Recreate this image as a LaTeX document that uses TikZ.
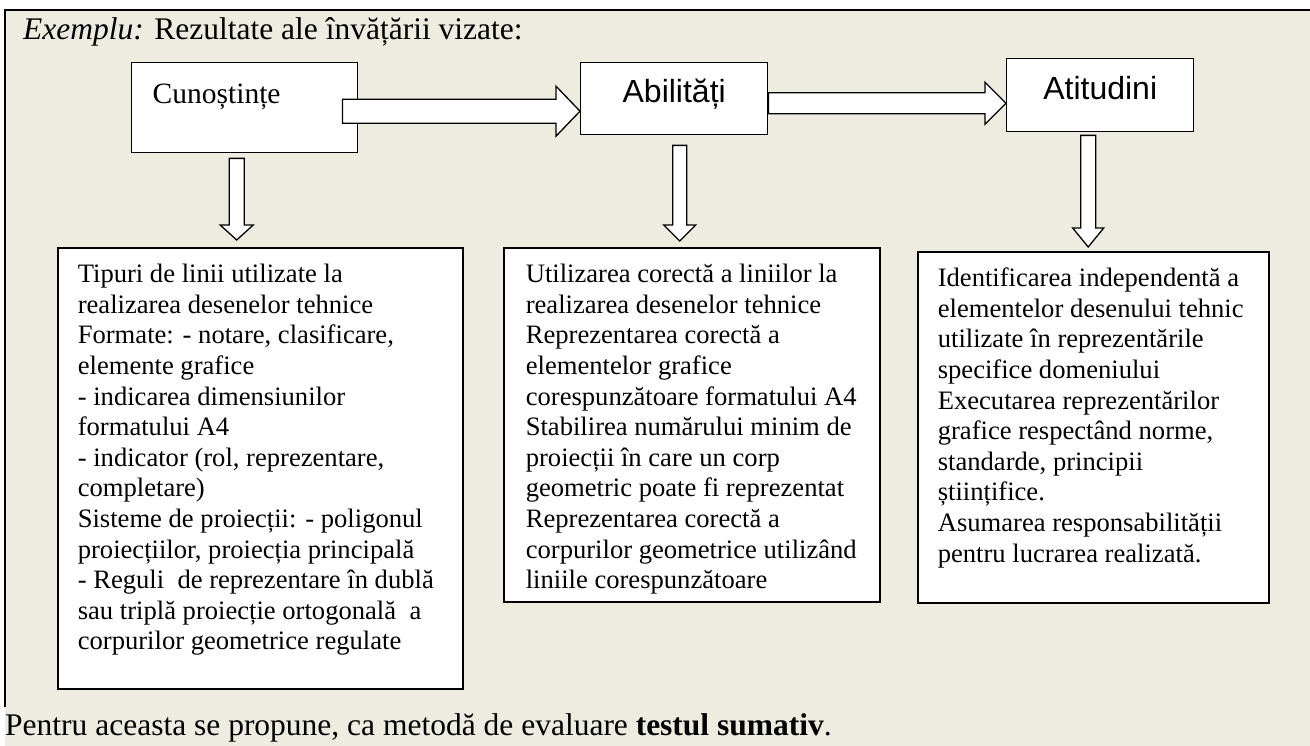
\documentclass[tikz,border=0pt]{standalone}
\usepackage{fontspec}
\setmainfont{Liberation Serif}
\newfontfamily\arialfont{Liberation Sans}
\usetikzlibrary{calc}
\definecolor{paper}{HTML}{EEECE1}

\newcommand{\boxfont}{\fontsize{26.6}{30.6}\selectfont}
% width, height, left padding, lines
\newcommand{\outcome}[4]{\parbox[t][#2][t]{#1}{\raggedright\leftskip=#3\rule{0pt}{35pt}#4}}
% tail, tip, half shaft, half head, head length
\newcommand{\rightblock}[5]{\draw[blockarrow] let \p1=(#1), \p2=(#2) in
  (\x1,\y2+#3) -- (\x2-#5,\y2+#3) -- (\x2-#5,\y2+#4) -- (\x2,\y2) --
  (\x2-#5,\y2-#4) -- (\x2-#5,\y2-#3) -- (\x1,\y2-#3) -- cycle;}
\newcommand{\downblock}[5]{\draw[blockarrow] let \p1=(#1), \p2=(#2) in
  (\x2-#3,\y1) -- (\x2-#3,\y2+#5) -- (\x2-#4,\y2+#5) -- (\x2,\y2) --
  (\x2+#4,\y2+#5) -- (\x2+#3,\y2+#5) -- (\x2+#3,\y1) -- cycle;}

\begin{document}
\begin{tikzpicture}[x=1pt, y=-1pt,
  topbox/.style={draw=black, line width=1.4pt, fill=white, anchor=north west, inner ysep=0pt},
  lowbox/.style={draw=black, line width=1.6pt, fill=white, anchor=north west, inner sep=0pt, font=\boxfont},
  blockarrow/.style={draw=black, line width=1.3pt, fill=white, line join=miter}
]
\useasboundingbox (0,0) rectangle (1310,746);
% shaded frame
\fill[paper] (5,10) rectangle (1310,746);
\draw[line width=2pt] (1312,10) -- (5,10) -- (5,707);

\node[anchor=base west, inner sep=0pt, font=\fontsize{31.5}{34}\selectfont] (title) at (23,40)
  {\textit{Exemplu:} Rezultate ale învățării vizate:};

% outcome headings
\node[topbox, text width=184pt, inner xsep=21pt, align=left, text height=41pt, text depth=49pt,
  font=\fontsize{29.5}{32}\selectfont] (cun) at (131,62) {Cunoștințe};
\node[topbox, minimum width=187pt, inner xsep=0pt, text height=40pt, text depth=32pt,
  font=\arialfont\fontsize{32}{34}\selectfont] (abi) at (580,62) {Abilități};
\node[topbox, minimum width=187pt, inner xsep=0pt, text height=41pt, text depth=32pt,
  font=\arialfont\fontsize{32}{34}\selectfont] (att) at (1006,58) {Atitudini};

% outcome lists
\node[lowbox] (cunlist) at (57,247) {\outcome{405pt}{441pt}{20pt}{%
Tipuri de linii utilizate la\\
realizarea desenelor tehnice\\
Formate: - notare, clasificare,\\
elemente grafice\\
- indicarea dimensiunilor\\
formatului A4\\
- indicator (rol, reprezentare,\\
completare)\\
Sisteme de proiecții: - poligonul\\
proiecțiilor, proiecția principală\\
- Reguli\ \ de reprezentare în dublă\\
sau triplă proiecție ortogonală\ \ a\\
corpurilor geometrice regulate}};
\node[lowbox] (abilist) at (503,247) {\outcome{376pt}{354pt}{22pt}{%
Utilizarea corectă a liniilor la\\
realizarea desenelor tehnice\\
Reprezentarea corectă a\\
elementelor grafice\\
corespunzătoare formatului A4\\
Stabilirea numărului minim de\\
proiecții în care un corp\\
geometric poate fi reprezentat\\
Reprezentarea corectă a\\
corpurilor geometrice utilizând\\
liniile corespunzătoare}};
\node[lowbox] (attlist) at (917,251) {\outcome{351pt}{351pt}{20pt}{%
Identificarea independentă a\\
elementelor desenului tehnic\\
utilizate în reprezentările\\
specifice domeniului\\
Executarea reprezentărilor\\
grafice respectând norme,\\
standarde, principii\\
științifice.\\
Asumarea responsabilității\\
pentru lucrarea realizată.}};

% block arrows
\coordinate (c2a) at ([xshift=-16pt,yshift=-3.5pt]cun.east);
\coordinate (a2t) at ([yshift=-4.5pt]abi.east);
\coordinate (c2l) at ([xshift=-8pt,yshift=-5pt]cun.south);
\coordinate (a2l) at ([xshift=5.5pt,yshift=-10pt]abi.south);
\coordinate (t2l) at ([xshift=-12pt,yshift=-3pt]att.south);
\rightblock{c2a}{abi.west |- c2a}{12pt}{25pt}{24pt}
\rightblock{a2t}{att.west |- a2t}{10.5pt}{21pt}{21pt}
\downblock{c2l}{$(c2l |- cunlist.north)+(0,-7)$}{7.5pt}{16.5pt}{15pt}
\downblock{a2l}{$(a2l |- abilist.north)+(0,-6)$}{7pt}{16pt}{16pt}
\downblock{t2l}{$(t2l |- attlist.north)+(0,-4)$}{7.5pt}{15.5pt}{19pt}

\node[anchor=base west, inner sep=0pt, font=\fontsize{31.5}{34}\selectfont] (note) at (5,735)
  {Pentru aceasta se propune, ca metodă de evaluare \textbf{testul sumativ}.};
\end{tikzpicture}
\end{document}
